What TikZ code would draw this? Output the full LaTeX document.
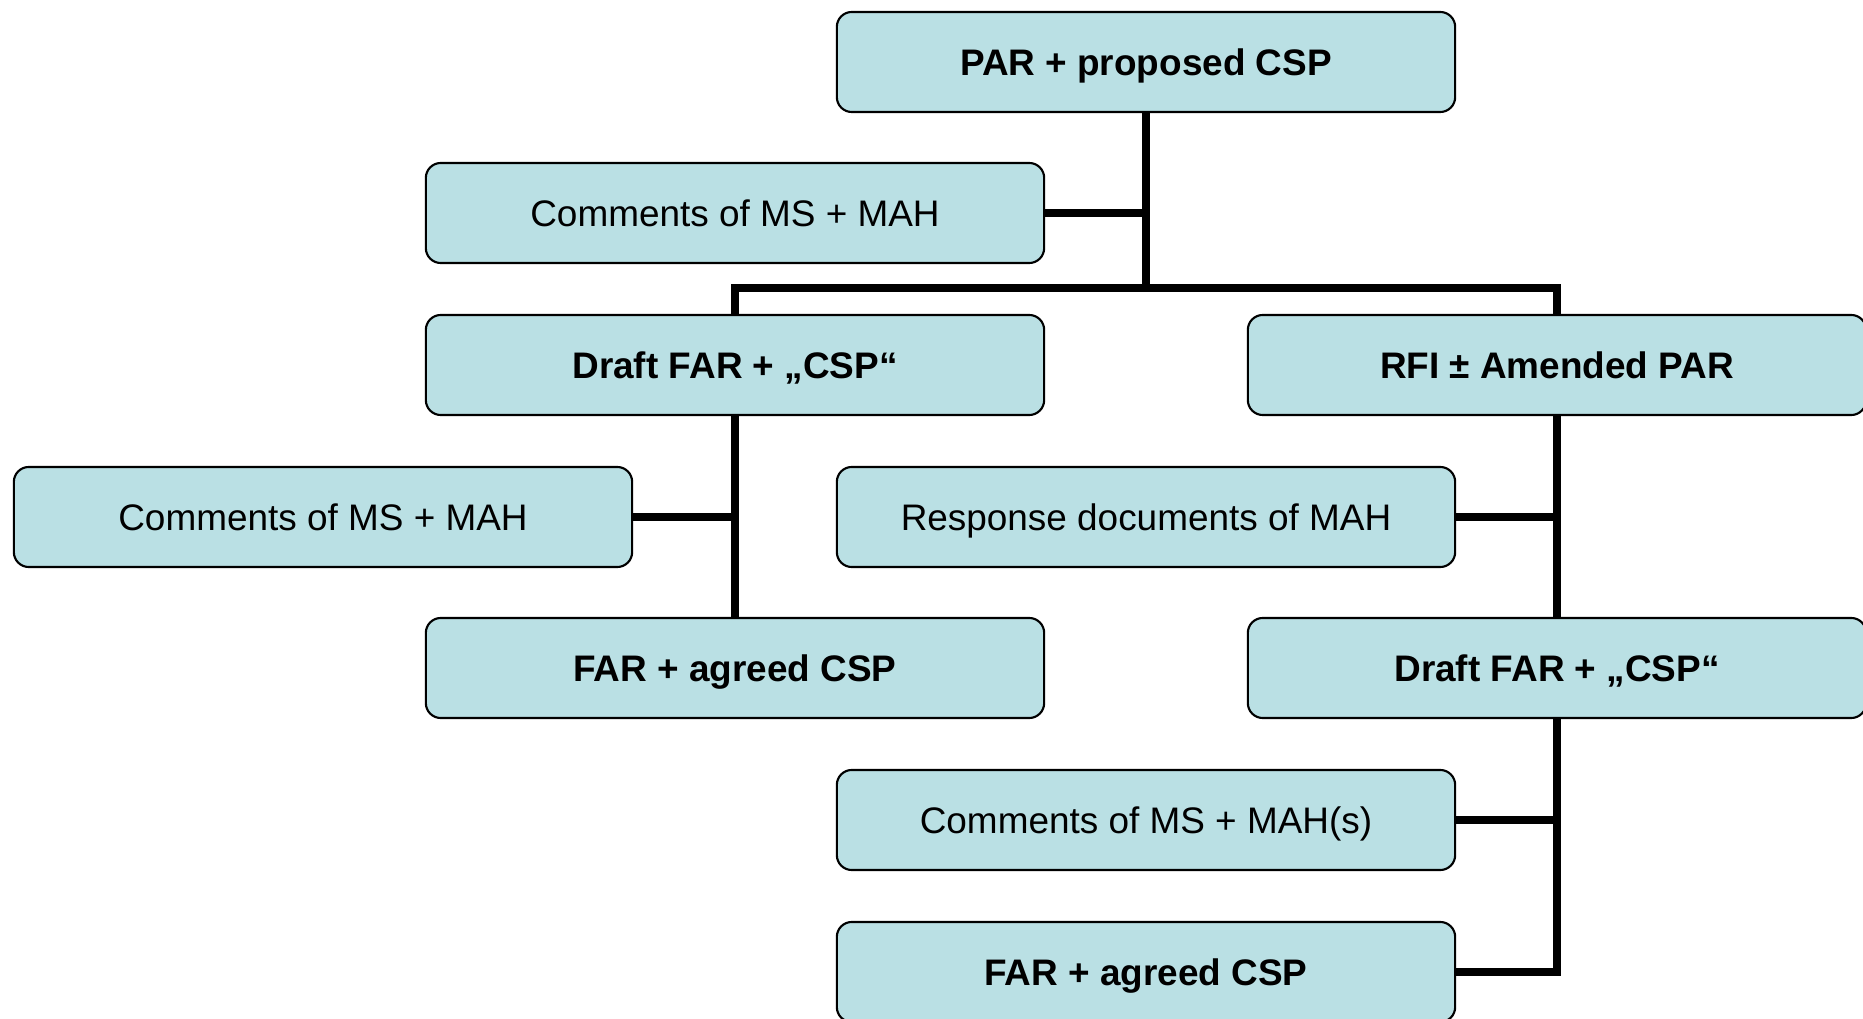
\documentclass[tikz,border=0pt]{standalone}
\usepackage{fontspec}
\setmainfont{Liberation Sans}
\definecolor{boxfill}{RGB}{186,224,228}
\tikzset{
  stage/.style={draw=black, line width=0.6pt, fill=boxfill, rounded corners=0.15cm,
    minimum width=6.18cm, minimum height=1.0cm, inner sep=0pt,
    text height=9.5pt, text depth=2pt,
    font=\fontsize{10.5}{12}\selectfont},
  keystage/.style={stage, font=\fontsize{10.5}{12}\selectfont\bfseries},
  link/.style={draw=black, line width=2pt, line join=miter}
}
\begin{document}
\begin{tikzpicture}[x=0.01cm, y=-0.01cm]
  \useasboundingbox (0,0) rectangle (1863,1019);

  % boxes
  \node[keystage] (top)  at (1146,62)  {PAR + proposed CSP};
  \node[stage]    (c1)   at (735,213)  {Comments of MS + MAH};
  \node[keystage] (d1)   at (735,365)  {Draft FAR + „CSP“};
  \node[keystage] (rfi)  at (1557,365) {RFI ± Amended PAR};
  \node[stage]    (c2)   at (323,517)  {Comments of MS + MAH};
  \node[stage]    (resp) at (1146,517) {Response documents of MAH};
  \node[keystage] (far1) at (735,668)  {FAR + agreed CSP};
  \node[keystage] (d2)   at (1557,668) {Draft FAR + „CSP“};
  \node[stage]    (c3)   at (1146,820) {Comments of MS + MAH(s)};
  \node[keystage] (far2) at (1146,972) {FAR + agreed CSP};

  % branching point below the first box
  \coordinate (bus) at (1146,288);

  % connectors
  \draw[link] (top.south) -- (bus);
  \draw[link] (c1.east) -- (c1.east -| top.south);
  \draw[link] (d1.north) |- (bus) -| (rfi.north);

  \draw[link] (d1.south) -- (far1.north);
  \draw[link] (c2.east) -- (c2.east -| d1.south);

  \draw[link] (rfi.south) -- (d2.north);
  \draw[link] (resp.east) -- (resp.east -| rfi.south);

  \draw[link] (d2.south) |- (far2.east);
  \draw[link] (c3.east) -- (c3.east -| d2.south);
\end{tikzpicture}
\end{document}
